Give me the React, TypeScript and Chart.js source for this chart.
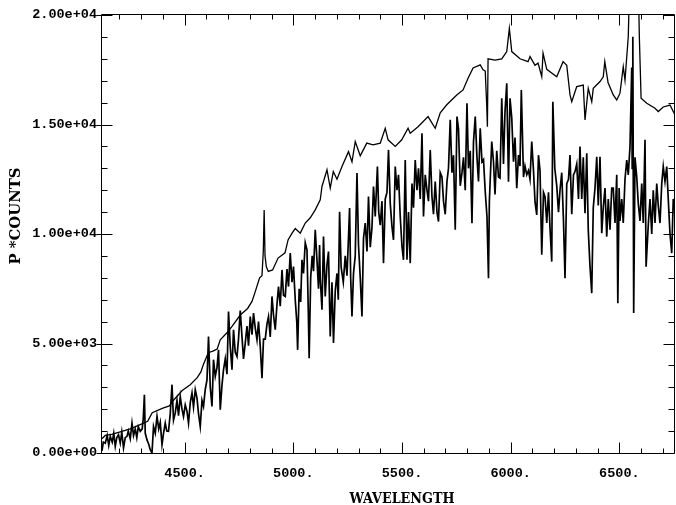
import React, { useEffect, useRef } from 'react';
import { Chart, registerables } from 'chart.js';

Chart.register(...registerables);

// Axis ranges and tick labels
const X_MIN = 4120;
const X_MAX = 6756;
const Y_MIN = 0;
const Y_MAX = 20000;
const xMajorTicks = [4500, 5000, 5500, 6000, 6500];
const xTickLabels = ['4500.', '5000.', '5500.', '6000.', '6500.'];
const yMajorTicks = [0, 5000, 10000, 15000, 20000];
const yTickLabels = ['0.00e+00', '5.00e+03', '1.00e+04', '1.50e+04', '2.00e+04'];
const xMinorTicks = [4200, 4300, 4400, 4600, 4700, 4800, 4900, 5100, 5200, 5300, 5400, 5600, 5700, 5800, 5900, 6100, 6200, 6300, 6400, 6600, 6700];
const yMinorTicks = [1000, 2000, 3000, 4000, 6000, 7000, 8000, 9000, 11000, 12000, 13000, 14000, 16000, 17000, 18000, 19000];
const xTitle = 'WAVELENGTH';
const yTitle = 'P *COUNTS';

// Smooth (upper) spectrum
const smoothWave = [4120, 4135, 4165, 4200, 4250, 4296, 4330, 4351, 4400, 4430, 4448, 4489, 4526, 4558, 4575, 4586, 4609, 4630, 4650, 4664, 4696, 4720, 4756, 4790, 4810, 4825, 4845, 4856, 4862, 4866, 4870, 4876, 4885, 4905, 4930, 4962, 4976, 4995, 5009, 5032, 5055, 5078, 5101, 5124, 5132, 5155, 5170, 5184, 5201, 5224, 5254, 5270, 5285, 5308, 5338, 5367, 5400, 5423, 5436, 5469, 5499, 5528, 5538, 5574, 5620, 5653, 5676, 5706, 5752, 5781, 5804, 5827, 5860, 5873, 5883, 5890, 5893, 5896, 5928, 5959, 5982, 5994, 6005, 6043, 6080, 6089, 6112, 6126, 6143, 6149, 6166, 6212, 6241, 6258, 6273, 6281, 6304, 6334, 6342, 6357, 6373, 6380, 6411, 6426, 6433, 6448, 6472, 6488, 6503, 6518, 6526, 6541, 6546, 6588, 6592, 6600, 6626, 6664, 6679, 6702, 6733, 6756];
const smoothFlux = [650, 800, 850, 950, 1100, 1300, 1450, 1840, 2050, 2150, 2400, 2850, 3120, 3440, 3700, 4030, 4580, 4650, 4750, 5170, 5500, 5800, 6300, 6600, 6920, 7370, 8000, 8100, 9200, 11100, 9000, 8500, 8290, 8360, 8900, 9140, 9730, 10050, 10250, 10040, 10500, 10740, 11100, 11560, 12170, 12930, 12100, 12850, 12500, 13080, 13760, 13300, 14220, 13570, 14150, 14070, 14150, 14830, 14300, 14000, 14300, 14830, 14600, 14900, 15360, 14830, 15530, 15900, 16350, 16580, 17110, 17580, 17720, 17500, 17440, 15840, 14900, 18000, 17940, 18000, 18330, 19390, 18330, 18000, 17870, 18100, 17700, 17800, 17180, 18260, 17520, 17180, 17870, 17700, 16350, 16040, 16730, 16800, 15210, 16650, 16040, 16650, 16960, 17180, 17870, 16920, 16350, 16120, 16430, 17640, 17020, 19010, 21000, 21000, 19000, 16200, 15970, 15740, 15590, 15800, 15890, 15440];

// Noisy (lower) spectrum
const noisyWave = [4120, 4126, 4135, 4144, 4151, 4158, 4167, 4174, 4181, 4188, 4196, 4204, 4211, 4219, 4227, 4235, 4241, 4250, 4258, 4265, 4273, 4280, 4287, 4296, 4305, 4310, 4315, 4319, 4327, 4335, 4342, 4350, 4357, 4365, 4373, 4381, 4388, 4396, 4403, 4411, 4418, 4426, 4434, 4442, 4449, 4457, 4465, 4472, 4480, 4488, 4495, 4503, 4511, 4518, 4526, 4534, 4541, 4549, 4557, 4564, 4572, 4580, 4587, 4595, 4603, 4610, 4618, 4626, 4633, 4641, 4649, 4656, 4664, 4672, 4679, 4687, 4695, 4702, 4710, 4718, 4725, 4733, 4741, 4748, 4756, 4764, 4771, 4779, 4787, 4794, 4802, 4810, 4817, 4825, 4833, 4840, 4848, 4856, 4863, 4871, 4879, 4886, 4894, 4902, 4909, 4917, 4925, 4932, 4940, 4948, 4955, 4963, 4971, 4978, 4986, 4994, 5001, 5009, 5016, 5020, 5027, 5034, 5040, 5047, 5055, 5063, 5069, 5073, 5080, 5087, 5093, 5101, 5109, 5116, 5121, 5124, 5132, 5139, 5147, 5155, 5162, 5170, 5178, 5185, 5193, 5201, 5207, 5213, 5220, 5230, 5239, 5247, 5253, 5259, 5264, 5270, 5277, 5285, 5293, 5300, 5308, 5316, 5323, 5331, 5339, 5346, 5354, 5362, 5369, 5377, 5387, 5393, 5400, 5408, 5415, 5423, 5431, 5438, 5446, 5454, 5461, 5469, 5477, 5484, 5492, 5500, 5507, 5515, 5523, 5530, 5538, 5546, 5553, 5561, 5569, 5576, 5584, 5592, 5599, 5607, 5615, 5622, 5630, 5638, 5645, 5653, 5661, 5668, 5676, 5684, 5691, 5699, 5707, 5714, 5722, 5730, 5737, 5745, 5753, 5760, 5768, 5776, 5783, 5791, 5799, 5806, 5814, 5822, 5829, 5837, 5845, 5852, 5860, 5868, 5875, 5883, 5891, 5898, 5902, 5913, 5921, 5928, 5936, 5944, 5951, 5959, 5967, 5974, 5982, 5990, 5997, 6005, 6013, 6020, 6028, 6036, 6043, 6049, 6059, 6066, 6074, 6082, 6089, 6097, 6105, 6112, 6120, 6128, 6135, 6143, 6151, 6158, 6166, 6174, 6181, 6189, 6194, 6203, 6212, 6220, 6227, 6235, 6243, 6250, 6258, 6266, 6273, 6281, 6289, 6296, 6304, 6312, 6319, 6327, 6334, 6342, 6350, 6357, 6365, 6373, 6380, 6388, 6396, 6403, 6411, 6419, 6426, 6434, 6442, 6449, 6457, 6465, 6472, 6480, 6488, 6493, 6499, 6503, 6511, 6518, 6526, 6534, 6541, 6549, 6557, 6559, 6562, 6566, 6572, 6580, 6587, 6595, 6603, 6610, 6618, 6623, 6633, 6641, 6649, 6656, 6664, 6672, 6679, 6687, 6695, 6702, 6710, 6718, 6725, 6733, 6741, 6748, 6756];
const noisyFlux = [100, 500, 450, 800, 350, 760, 500, 900, 300, 700, 830, 450, 950, 230, 700, 760, 1000, 650, 1370, 800, 1100, 700, 1200, 990, 1100, 1600, 2660, 900, 600, 400, 150, 0, 1210, 900, 1670, 1100, 1400, 380, 900, 1370, 1000, 990, 1800, 3120, 1500, 1830, 2400, 1700, 2580, 2000, 1670, 2200, 1900, 1370, 2300, 2740, 2100, 2890, 2500, 1800, 1210, 2400, 2130, 2900, 3340, 5320, 3000, 2130, 4260, 3500, 3900, 4710, 1980, 3100, 3800, 4300, 3600, 6460, 4870, 3800, 5630, 4600, 4410, 5200, 6500, 5300, 4300, 5020, 5800, 4900, 6230, 5400, 6390, 5700, 5170, 6000, 4870, 3420, 5200, 5200, 5900, 6230, 5300, 7150, 6300, 5630, 6800, 7600, 6700, 8360, 7200, 7150, 8400, 7600, 9130, 7800, 8510, 7000, 6000, 4710, 7500, 6900, 8820, 8200, 9600, 9280, 6500, 4330, 8000, 9000, 8300, 10190, 8800, 7500, 9500, 7970, 6540, 9880, 7150, 8600, 9200, 5320, 7800, 5020, 7400, 8200, 7000, 11020, 8500, 7800, 9000, 8100, 9600, 11190, 8000, 6230, 8200, 9000, 12790, 9500, 8000, 6230, 9800, 10500, 9200, 11710, 9400, 10300, 12170, 10800, 13080, 11000, 10400, 11500, 8670, 11600, 11900, 13840, 11400, 10340, 9730, 13080, 12000, 12700, 10800, 9430, 8820, 13380, 8820, 11000, 8670, 12300, 11200, 13380, 12000, 13000, 11600, 14600, 10800, 12700, 12000, 11500, 13840, 11700, 10900, 12400, 11000, 10570, 12800, 12600, 11500, 10900, 12400, 13000, 15210, 12800, 13600, 10190, 15360, 14800, 12200, 12800, 13500, 12000, 15970, 13000, 13800, 10490, 14200, 15360, 13500, 12400, 14830, 13300, 13400, 11940, 10800, 7980, 11500, 14220, 13300, 11800, 13800, 12600, 12550, 16200, 13200, 15590, 16880, 12390, 16200, 15300, 13300, 14400, 12090, 13600, 13100, 16580, 12600, 13100, 12700, 12900, 12500, 14220, 12900, 11480, 10870, 13600, 12900, 9050, 11900, 11700, 10500, 11900, 10270, 8740, 16040, 13000, 12200, 11000, 12000, 12800, 10600, 7980, 12300, 12500, 13610, 10900, 12700, 12850, 13200, 11600, 13990, 11600, 13500, 10950, 13690, 10190, 8510, 7300, 11200, 12100, 13530, 11300, 13530, 10040, 11200, 12100, 9880, 11600, 10200, 12100, 12100, 10500, 12700, 6840, 12100, 10600, 11600, 10500, 12500, 13380, 12700, 13990, 17600, 13000, 19010, 6390, 13500, 12600, 11400, 10600, 12300, 10500, 14300, 8510, 10400, 11600, 10000, 12000, 10500, 12300, 11300, 10500, 12300, 13080, 12400, 13080, 11600, 10000, 9130, 11600, 11000];

const MONO = "'Liberation Mono', 'DejaVu Sans Mono', monospace";
const SERIF = "'DejaVu Serif', 'Liberation Serif', serif";

const frameAndTicks = {
  id: 'frameAndTicks',
  afterDatasetsDraw(chart: any) {
    const { ctx, chartArea, scales } = chart;
    const { left, right, top, bottom } = chartArea;
    const xs = scales.x;
    const ys = scales.y;
    const L = Math.round(left) - 0.5;
    const R = Math.round(right) - 0.5;
    const T = Math.round(top) - 0.5;
    const B = Math.round(bottom) + 0.5;
    ctx.save();
    ctx.strokeStyle = '#000';
    ctx.lineWidth = 1;
    ctx.beginPath();
    ctx.rect(L, T, R - L, B - T);
    const xTick = (v: number, len: number) => {
      const px = Math.round(xs.getPixelForValue(v)) + 0.5;
      ctx.moveTo(px, B);
      ctx.lineTo(px, B - len);
      ctx.moveTo(px, T);
      ctx.lineTo(px, T + len);
    };
    const yTick = (v: number, len: number, out: number) => {
      const py = Math.round(ys.getPixelForValue(v)) + 0.5;
      ctx.moveTo(L - out, py);
      ctx.lineTo(L + len, py);
      ctx.moveTo(R, py);
      ctx.lineTo(R - len, py);
    };
    xMinorTicks.forEach((v) => xTick(v, 5));
    xMajorTicks.forEach((v) => xTick(v, 11));
    yMinorTicks.forEach((v) => yTick(v, 6, 0));
    yMajorTicks.forEach((v) => yTick(v, 11, 5));
    ctx.stroke();
    ctx.restore();
  },
  afterDraw(chart: any) {
    const { ctx } = chart;
    ctx.save();
    ctx.fillStyle = '#000';
    ctx.font = `bold 14px ${SERIF}`;
    ctx.textBaseline = 'alphabetic';
    ctx.textAlign = 'center';
    let w = ctx.measureText(xTitle).width;
    ctx.save();
    ctx.translate(402, 503);
    ctx.scale(105 / w, 1);
    ctx.fillText(xTitle, 0, 0);
    ctx.restore();
    w = ctx.measureText(yTitle).width;
    ctx.save();
    ctx.translate(20, 216);
    ctx.rotate(-Math.PI / 2);
    ctx.scale(97 / w, 1);
    ctx.fillText(yTitle, 0, 0);
    ctx.restore();
    ctx.restore();
  },
};

export default function App() {
  const ref = useRef<HTMLCanvasElement | null>(null);
  useEffect(() => {
    if (!ref.current) return;
    const chart = new Chart(ref.current, {
      type: 'line',
      data: {
        datasets: [
          {
            label: 'smooth',
            data: smoothWave.map((x, i) => ({ x, y: smoothFlux[i] })),
            borderColor: '#000',
            borderWidth: 1.3,
            pointRadius: 0,
            tension: 0,
            fill: false,
          },
          {
            label: 'noisy',
            data: noisyWave.map((x, i) => ({ x, y: noisyFlux[i] })),
            borderColor: '#000',
            borderWidth: 1.7,
            pointRadius: 0,
            tension: 0,
            fill: false,
          },
        ],
      },
      options: {
        animation: false,
        responsive: false,
        devicePixelRatio: 1,
        layout: { padding: { left: 0, right: 1, top: 15, bottom: 0 } },
        plugins: { legend: { display: false }, tooltip: { enabled: false } },
        scales: {
          x: {
            type: 'linear',
            min: X_MIN,
            max: X_MAX,
            grid: { display: false, drawTicks: false },
            border: { display: false },
            afterBuildTicks: (s: any) => { s.ticks = xMajorTicks.map((value) => ({ value })); },
            afterFit: (s: any) => { s.height = 52; s.paddingLeft = 0; s.paddingRight = 0; },
            ticks: {
              autoSkip: false,
              maxRotation: 0,
              minRotation: 0,
              padding: 12,
              color: '#000',
              font: { family: MONO, size: 13.5, weight: 'bold' },
              callback: (v: any) => {
                const i = xMajorTicks.indexOf(Number(v));
                return i >= 0 ? xTickLabels[i] : '';
              },
            },
          },
          y: {
            type: 'linear',
            min: Y_MIN,
            max: Y_MAX,
            grid: { display: false, drawTicks: false },
            border: { display: false },
            afterBuildTicks: (s: any) => { s.ticks = yMajorTicks.map((value) => ({ value })); },
            afterFit: (s: any) => { s.width = 102; s.paddingTop = 0; s.paddingBottom = 0; },
            ticks: {
              autoSkip: false,
              padding: 5,
              color: '#000',
              font: { family: MONO, size: 13.5, weight: 'bold' },
              callback: (v: any) => {
                const i = yMajorTicks.indexOf(Number(v));
                return i >= 0 ? yTickLabels[i] : '';
              },
            },
          },
        },
      },
      plugins: [frameAndTicks],
    } as any);
    return () => chart.destroy();
  }, []);
  return (
    <div style={{ position: 'fixed', left: 0, top: 0, width: 676, height: 505, background: '#fff' }}>
      <canvas ref={ref} width={676} height={505} style={{ display: 'block', width: 676, height: 505 }} />
    </div>
  );
}
